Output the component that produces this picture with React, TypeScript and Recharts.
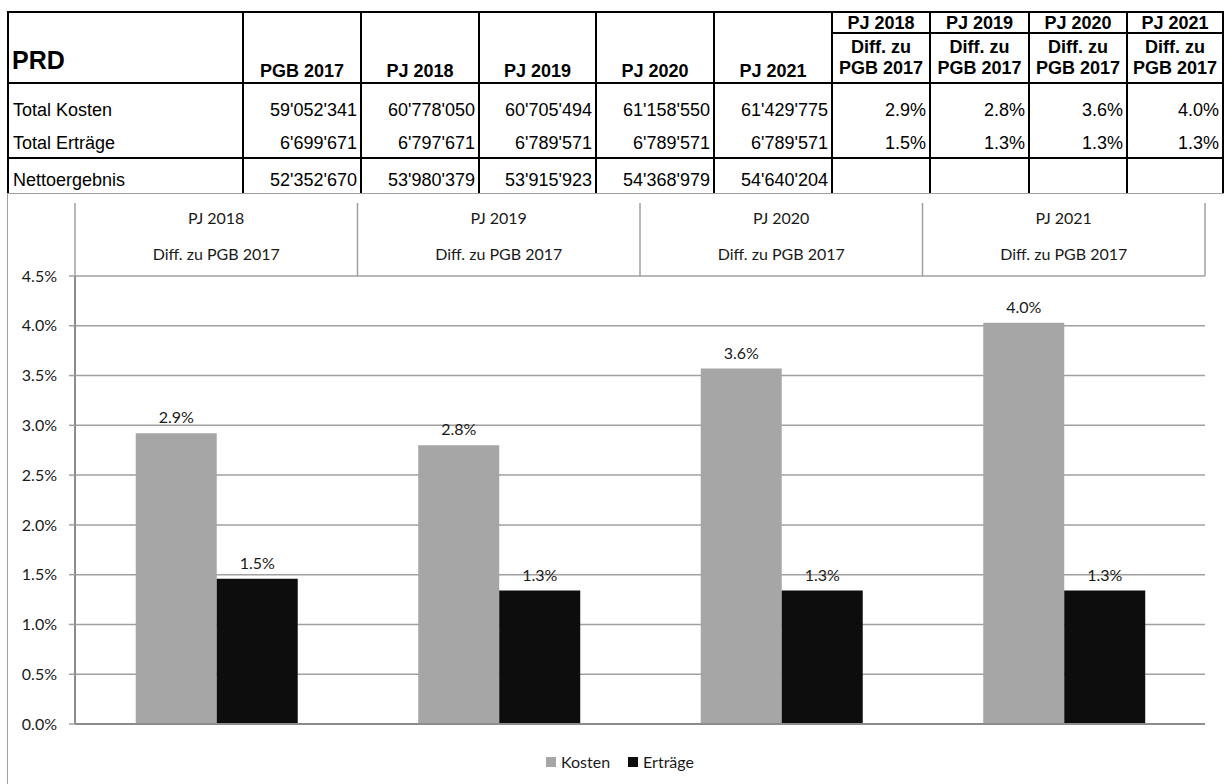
import React from 'react';
import { BarChart, Bar, XAxis, YAxis, CartesianGrid, Legend, LabelList } from 'recharts';

// ---------- data ----------
const tableTitle = 'PRD';
const tableYears = ['PGB 2017', 'PJ 2018', 'PJ 2019', 'PJ 2020', 'PJ 2021'];
const diffYears = ['PJ 2018', 'PJ 2019', 'PJ 2020', 'PJ 2021'];
const diffLabel = 'Diff. zu';
const diffBase = 'PGB 2017';
const rowLabels = ['Total Kosten', 'Total Erträge', 'Nettoergebnis'];
const kostenTotals = [59052341, 60778050, 60705494, 61158550, 61429775];
const ertraegeTotals = [6699671, 6797671, 6789571, 6789571, 6789571];
const nettoTotals = [52352670, 53980379, 53915923, 54368979, 54640204];
const kostenDiff = [2.92, 2.8, 3.57, 4.03];
const ertraegeDiff = [1.46, 1.34, 1.34, 1.34];
const yTicks = [0, 0.5, 1, 1.5, 2, 2.5, 3, 3.5, 4, 4.5];
const seriesNames = ['Kosten', 'Erträge'];
const seriesColors = ['#a6a6a6', '#0d0d0d'];

const chartData = diffYears.map((y, i) => ({ cat: y, kosten: kostenDiff[i], ertraege: ertraegeDiff[i] }));

// ---------- layout ----------
const colEdges = [8, 243, 361, 479, 596, 714, 832, 930, 1029, 1127, 1223];
const TABLE_TOP = 12;
const HEADER_BOTTOM = 83;
const DIFF_SUB = 33;
const NETTO_LINE = 158;
const TABLE_BOTTOM = 193;
const rowCenters = [110, 143, 180];
const TABLE_FONT = '"Liberation Sans", Arial, sans-serif';
const CHART_FONT = 'Lato, "Open Sans", sans-serif';
const GRID = '#a0a0a0';
const AXIS = '#8c8c8c';
const TEXT = '#1a1a1a';

const fmtNum = (n: number) => String(n).replace(/\B(?=(\d{3})+(?!\d))/g, "'");
const fmtPct = (n: number) => `${n.toFixed(1)}%`;

const HLine = ({ y, x1, x2, w = 2 }: any) => (
  <div style={{ position: 'absolute', left: x1 - 1, top: y - w / 2, width: x2 - x1 + 2, height: w, background: '#000' }} />
);
const VLine = ({ x, y1, y2, w = 2 }: any) => (
  <div style={{ position: 'absolute', left: x - w / 2, top: y1, width: w, height: y2 - y1, background: '#000' }} />
);

const Cell = ({ x1, x2, cy, text, align = 'center', bold = false, size = 18, pad = 5 }: any) => (
  <div
    style={{
      position: 'absolute',
      left: x1 + (align === 'left' ? pad : 0),
      width: x2 - x1 - (align === 'right' ? pad : 0) - (align === 'left' ? pad : 0),
      top: cy - 14,
      height: 28,
      lineHeight: '28px',
      textAlign: align,
      fontWeight: bold ? 'bold' : 'normal',
      fontSize: size,
      fontFamily: TABLE_FONT,
      color: '#000',
      whiteSpace: 'nowrap',
    }}
  >
    {text}
  </div>
);

const TopTable = () => {
  const L = colEdges[0];
  const R = colEdges[colEdges.length - 1];
  const els: any[] = [];
  els.push(<HLine key="t" y={TABLE_TOP} x1={L} x2={R} />);
  els.push(<HLine key="h" y={HEADER_BOTTOM} x1={L} x2={R} />);
  els.push(<HLine key="n" y={NETTO_LINE} x1={L} x2={R} />);
  els.push(<HLine key="d" y={DIFF_SUB} x1={colEdges[6]} x2={R} w={1.5} />);
  colEdges.forEach((x, i) => els.push(<VLine key={'v' + i} x={x} y1={TABLE_TOP - 1} y2={TABLE_BOTTOM} />));
  els.push(<Cell key="title" x1={L} x2={colEdges[1]} cy={60} text={tableTitle} align="left" bold size={25} pad={4} />);
  tableYears.forEach((y, i) =>
    els.push(<Cell key={'hy' + i} x1={colEdges[i + 1]} x2={colEdges[i + 2]} cy={71} text={y} bold />)
  );
  diffYears.forEach((y, j) => {
    const a = colEdges[6 + j];
    const b = colEdges[7 + j];
    els.push(<Cell key={'dy' + j} x1={a} x2={b} cy={23} text={y} bold />);
    els.push(<Cell key={'dl' + j} x1={a} x2={b} cy={47} text={diffLabel} bold />);
    els.push(<Cell key={'db' + j} x1={a} x2={b} cy={68} text={diffBase} bold />);
  });
  const rows = [kostenTotals, ertraegeTotals, nettoTotals];
  rows.forEach((vals, r) => {
    els.push(<Cell key={'rl' + r} x1={L} x2={colEdges[1]} cy={rowCenters[r]} text={rowLabels[r]} align="left" pad={5} />);
    vals.forEach((v, i) =>
      els.push(
        <Cell key={'rv' + r + '-' + i} x1={colEdges[i + 1]} x2={colEdges[i + 2]} cy={rowCenters[r]} text={fmtNum(v)} align="right" pad={4} />
      )
    );
  });
  [kostenDiff, ertraegeDiff].forEach((vals, r) =>
    vals.forEach((v, j) =>
      els.push(
        <Cell key={'rd' + r + '-' + j} x1={colEdges[6 + j]} x2={colEdges[7 + j]} cy={rowCenters[r]} text={fmtPct(v)} align="right" pad={4} />
      )
    )
  );
  return <>{els}</>;
};

const HeaderTick = (props: any) => {
  const { x, y, payload, index, width, visibleTicksCount } = props;
  const count = visibleTicksCount || diffYears.length;
  const band = (width || 1130) / count;
  const left = x - band / 2;
  return (
    <g>
      <line x1={left} x2={left} y1={y - 73} y2={y} stroke={GRID} strokeWidth={1.5} />
      {index === count - 1 && <line x1={left + band} x2={left + band} y1={y - 73} y2={y} stroke={GRID} strokeWidth={1.5} />}
      <text x={x} y={y - 59} textAnchor="middle" dominantBaseline="central" fontFamily={CHART_FONT} fontSize={16} fill={TEXT}>
        {payload.value}
      </text>
      <text x={x} y={y - 23} textAnchor="middle" dominantBaseline="central" fontFamily={CHART_FONT} fontSize={16} fill={TEXT}>
        {`${diffLabel} ${diffBase}`}
      </text>
    </g>
  );
};

const LegendContent = (props: any) => {
  const items = [...(props.payload || [])].sort(
    (a: any, b: any) => seriesNames.indexOf(a.value) - seriesNames.indexOf(b.value)
  );
  return (
    <div style={{ display: 'flex', justifyContent: 'center', alignItems: 'center', fontFamily: CHART_FONT, fontSize: 16, color: TEXT, lineHeight: '20px' }}>
      {items.map((p: any, i: number) => (
        <span key={i} style={{ display: 'inline-flex', alignItems: 'center', marginLeft: i === 0 ? 0 : 18 }}>
          <span style={{ display: 'inline-block', width: 10, height: 10, background: p.color, marginRight: 5 }} />
          {p.value}
        </span>
      ))}
    </div>
  );
};

export default function App() {
  return (
    <div style={{ position: 'absolute', left: 0, top: 0, width: 1224, height: 784, background: '#fff', overflow: 'hidden' }}>
      <TopTable />
      <div
        style={{
          position: 'absolute',
          left: 0,
          top: TABLE_BOTTOM,
          width: 1224,
          height: 784 - TABLE_BOTTOM,
          background: '#fff',
        }}
      >
        <div style={{ position: 'absolute', left: 7, top: 0, right: -2, bottom: -2, borderLeft: `1.5px solid ${GRID}`, borderTop: `1.5px solid ${GRID}` }} />
        <BarChart
          width={1224}
          height={784 - TABLE_BOTTOM}
          data={chartData}
          margin={{ top: 0, right: 19, bottom: 50, left: 0 }}
          barCategoryGap="21.5%"
          barGap={0}
        >
          <CartesianGrid xAxisId="cat" horizontal vertical={false} stroke={GRID} strokeWidth={1.5} />
          <XAxis
            xAxisId="cat"
            dataKey="cat"
            orientation="top"
            height={83}
            axisLine={false}
            tickLine={false}
            tickSize={0}
            tickMargin={0}
            interval={0}
            tick={<HeaderTick />}
          />
          <XAxis
            xAxisId="edge"
            type="number"
            domain={[0, diffYears.length]}
            allowDataOverflow
            ticks={[0, 1, 2, 3, 4]}
            height={10}
            tick={false}
            tickSize={6}
            axisLine={{ stroke: AXIS, strokeWidth: 2 }}
            tickLine={{ stroke: AXIS, strokeWidth: 1.5 }}
          />
          <YAxis
            domain={[0, 4.5]}
            ticks={yTicks}
            width={75}
            interval={0}
            tickFormatter={fmtPct}
            tickSize={6}
            tickMargin={12}
            axisLine={{ stroke: AXIS, strokeWidth: 2 }}
            tickLine={{ stroke: GRID, strokeWidth: 1.5 }}
            tick={{ fontFamily: CHART_FONT, fontSize: 16, fill: TEXT }}
          />
          <Legend
            verticalAlign="middle"
            align="center"
            layout="horizontal"
            content={<LegendContent />}
            wrapperStyle={{ top: 559, left: 8, width: 1224 }}
          />
          <Bar xAxisId="cat" dataKey="kosten" name={seriesNames[0]} fill={seriesColors[0]} isAnimationActive={false}>
            <LabelList dataKey="kosten" position="top" offset={10} formatter={(v: any) => fmtPct(Number(v))} style={{ fontFamily: CHART_FONT, fontSize: 16, fill: TEXT }} />
          </Bar>
          <Bar xAxisId="cat" dataKey="ertraege" name={seriesNames[1]} fill={seriesColors[1]} isAnimationActive={false}>
            <LabelList dataKey="ertraege" position="top" offset={10} formatter={(v: any) => fmtPct(Number(v))} style={{ fontFamily: CHART_FONT, fontSize: 16, fill: TEXT }} />
          </Bar>
        </BarChart>
      </div>
    </div>
  );
}
